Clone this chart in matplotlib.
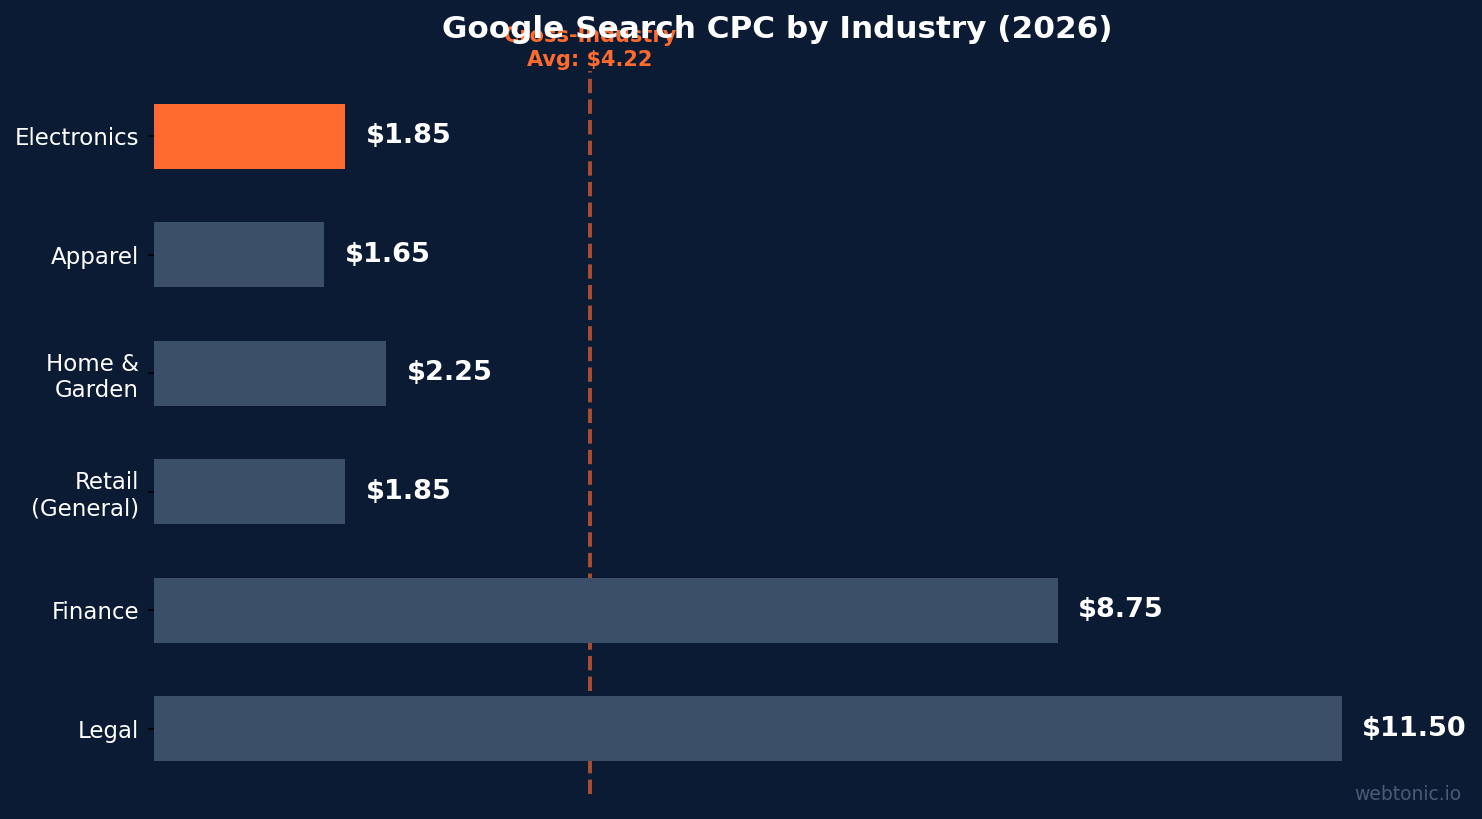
import matplotlib
matplotlib.use("Agg")
import matplotlib.pyplot as plt

categories = ["Electronics", "Apparel", "Home &\nGarden", "Retail\n(General)", "Finance", "Legal"]
cpc = [1.85, 1.65, 2.25, 1.85, 8.75, 11.50]
avg_cpc = 4.22
highlight = "Electronics"

BG = "#0B1B34"
BAR = "#3B5068"
ORANGE = "#FF6B2F"

W, H = 1482, 819
fig = plt.figure(figsize=(W / 100, H / 100), dpi=100, facecolor=BG)
ax = fig.add_axes([154 / W, 1 - 794 / H, (1401 - 154) / W, (794 - 71) / H])
ax.set_facecolor(BG)

colors = [ORANGE if c == highlight else BAR for c in categories]
ypos = list(range(len(categories)))
ax.barh(ypos, cpc, height=0.55, color=colors, zorder=2)
ax.set_yticks(ypos)
ax.set_yticklabels(categories, color="white", fontsize=16.5)
ax.invert_yaxis()
ax.set_xticks([])
for s in ax.spines.values():
    s.set_visible(False)
ax.tick_params(axis="y", colors="black", labelcolor="white", length=4.3, width=1.1, pad=6.5)

ax.axvline(avg_cpc, color=ORANGE, alpha=0.65, linestyle="--", linewidth=2.8, zorder=1)

for y, v in zip(ypos, cpc):
    ax.text(v + 0.2, y, f"${v:.2f}", color="white", fontsize=19.5, fontweight="bold",
            va="center", ha="left")

ax.text(avg_cpc, 1.002, f"Cross-Industry\nAvg: ${avg_cpc:.2f}", transform=ax.get_xaxis_transform(),
        color=ORANGE, fontsize=15, fontweight="bold", ha="center", va="bottom",
        linespacing=1.2)

fig.text(0.5246, 1 - 30 / H, "Google Search CPC by Industry (2026)", color="white",
         fontsize=22.4, fontweight="bold", ha="center", va="center")
fig.text(1 - 21 / W, 1 - 794 / H, "webtonic.io", color="#4A5B78", fontsize=13.5,
         ha="right", va="center")

fig.savefig("out.png", dpi=100, facecolor=BG)
